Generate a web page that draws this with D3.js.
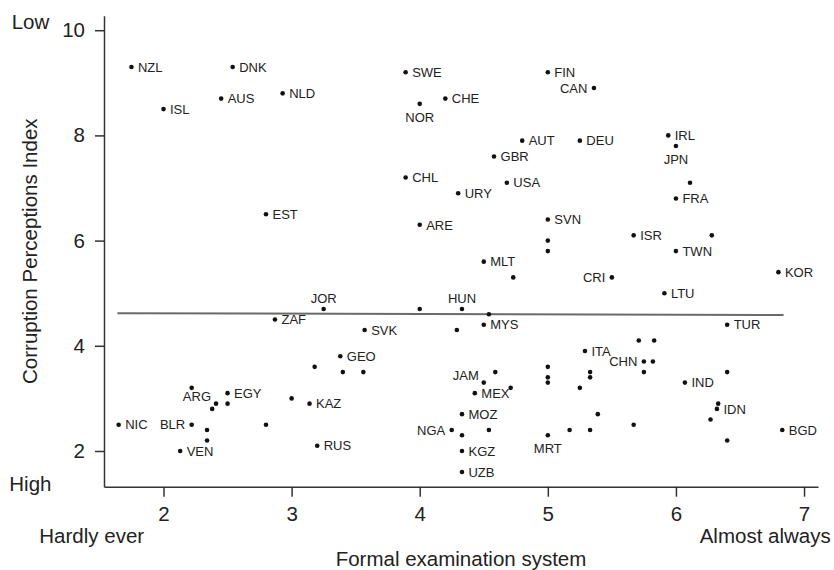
<!DOCTYPE html>
<html>
<head>
<meta charset="utf-8">
<script src="https://cdn.jsdelivr.net/npm/d3@7"></script>
<style>
  html, body { margin: 0; padding: 0; background: #fff; }
  svg { display: block; font-family: "Liberation Sans", Arial, Helvetica, sans-serif; }
</style>
</head>
<body>
<svg id="chart" width="834" height="570"></svg>
<script>
// ---- Data ----
const countryCodes = ["NZL","DNK","ISL","AUS","NLD","SWE","NOR","CHE","FIN","CAN","AUT","DEU","GBR","IRL","JPN","CHL","USA","URY","FRA","EST","ARE","SVN","ISR","TWN","MLT","KOR","CRI","LTU","JOR","HUN","ZAF","SVK","MYS","TUR","GEO","ITA","CHN","JAM","MEX","IND","ARG","EGY","KAZ","IDN","MOZ","NIC","BLR","NGA","BGD","MRT","RUS","VEN","KGZ","UZB",
  "","","","","","","","","","","","","","","","","","","","","","","","","","","","","","","","","","","","","","","",""];
const formalExam = [1.75,2.54,2.00,2.45,2.93,3.89,4.00,4.20,5.00,5.36,4.80,5.25,4.58,5.94,6.00,3.89,4.68,4.30,6.00,2.80,4.00,5.00,5.67,6.00,4.50,6.80,5.50,5.91,3.25,4.33,2.87,3.57,4.50,6.40,3.38,5.29,5.75,4.50,4.43,6.07,2.41,2.50,3.14,6.32,4.33,1.65,2.22,4.25,6.83,5.00,3.20,2.13,4.33,4.33,
  6.11,5.00,5.00,4.73,6.28,4.00,4.54,4.29,3.18,3.40,3.56,4.59,4.71,5.00,5.00,5.00,5.33,5.33,5.25,5.71,5.83,5.82,5.75,6.40,6.33,6.27,5.39,5.67,5.17,5.33,6.40,3.00,2.80,2.22,2.50,2.38,2.34,2.34,4.33,4.54];
const cpiValues = [9.3,9.3,8.5,8.7,8.8,9.2,8.6,8.7,9.2,8.9,7.9,7.9,7.6,8.0,7.8,7.2,7.1,6.9,6.8,6.5,6.3,6.4,6.1,5.8,5.6,5.4,5.3,5.0,4.7,4.7,4.5,4.3,4.4,4.4,3.8,3.9,3.7,3.3,3.1,3.3,2.9,3.1,2.9,2.8,2.7,2.5,2.5,2.4,2.4,2.3,2.1,2.0,2.0,1.6,
  7.1,6.0,5.8,5.3,6.1,4.7,4.6,4.3,3.6,3.5,3.5,3.5,3.2,3.6,3.4,3.3,3.5,3.4,3.2,4.1,4.1,3.7,3.5,3.5,2.9,2.6,2.7,2.5,2.4,2.4,2.2,3.0,2.5,3.2,2.9,2.8,2.4,2.2,2.3,2.4];
// label side: r = right, l = left, t = above, b = below, tl = above-left
const labelSide = {CAN:"l", CRI:"l", CHN:"l", BLR:"l", NGA:"l", NOR:"b", JPN:"b", MRT:"b", JOR:"t", HUN:"t", JAM:"tl", ARG:"tl"};
const xTicks = [2,3,4,5,6,7];
const yTicks = [2,4,6,8,10];
const trendX = [1.64, 6.84];
const trendY = [4.62, 4.585];
const xTitle = "Formal examination system";
const yTitle = "Corruption Perceptions Index";
const yEndLabels = ["Low", "High"];
const xEndLabels = ["Hardly ever", "Almost always"];

// ---- Layout ----
const W = 834, H = 570;
const margin = {left: 104, right: 16, top: 15.7, bottom: 83.3};
const svg = d3.select("#chart");
const x = d3.scaleLinear().domain([1.5355, 7.109]).range([margin.left, W - margin.right]);
const y = d3.scaleLinear().domain([1.321, 10.276]).range([H - margin.bottom, margin.top]);
const axisColor = "#333";
const textColor = "#222";
const bigFont = 20.5;

const points = countryCodes.map((c, i) => ({code: c, fx: formalExam[i], cpi: cpiValues[i]}));

// Axes
const gx = svg.append("g").attr("transform", `translate(0,${H - margin.bottom})`)
  .call(d3.axisBottom(x).tickValues(xTicks).tickSizeInner(10).tickSizeOuter(0).tickPadding(9.3).tickFormat(d3.format("d")));
const gy = svg.append("g").attr("transform", `translate(${margin.left},0)`)
  .call(d3.axisLeft(y).tickValues(yTicks).tickSizeInner(9).tickSizeOuter(0).tickPadding(10).tickFormat(d3.format("d")));
[gx, gy].forEach(g => {
  g.select(".domain").attr("stroke", axisColor).attr("stroke-width", 1.5);
  g.selectAll(".tick line").attr("stroke", axisColor).attr("stroke-width", 1.5);
  g.selectAll(".tick text").attr("fill", textColor).style("font-size", bigFont + "px")
    .style("font-family", '"Liberation Sans", Arial, Helvetica, sans-serif');
});

// Trend line
const trend = trendX.map((v, i) => [v, trendY[i]]);
svg.append("path").datum(trend)
  .attr("d", d3.line().x(d => x(d[0])).y(d => y(d[1])))
  .attr("fill", "none").attr("stroke", "#6a6a6a").attr("stroke-width", 2);

// Points
svg.append("g").selectAll("circle").data(points).join("circle")
  .attr("cx", d => x(d.fx)).attr("cy", d => y(d.cpi)).attr("r", 2.3).attr("fill", "#111");

// Labels
svg.append("g").selectAll("text").data(points.filter(d => d.code)).join("text")
  .attr("fill", textColor).style("font-size", "13px")
  .each(function(d) {
    const s = labelSide[d.code] || "r";
    const t = d3.select(this).text(d.code);
    const cx = x(d.fx), cy = y(d.cpi);
    if (s === "r") t.attr("x", cx + 6.5).attr("y", cy).attr("dy", "0.36em").attr("text-anchor", "start");
    else if (s === "l") t.attr("x", cx - 6.5).attr("y", cy).attr("dy", "0.36em").attr("text-anchor", "end");
    else if (s === "t") t.attr("x", cx).attr("y", cy - 6).attr("text-anchor", "middle");
    else if (s === "b") t.attr("x", cx).attr("y", cy + 17.8).attr("text-anchor", "middle");
    else if (s === "tl") t.attr("x", cx - 5).attr("y", cy - 3).attr("text-anchor", "end");
  });

// Titles and end labels
const txt = (s, xx, yy, anchor) => svg.append("text").text(s).attr("x", xx).attr("y", yy)
  .attr("text-anchor", anchor).attr("fill", textColor).style("font-size", bigFont + "px");
txt(yEndLabels[0], 11.7, 29.3, "start");
txt(yEndLabels[1], 9.3, 490.5, "start");
txt(xEndLabels[0], 39.3, 543, "start");
txt(xEndLabels[1], 830.7, 543, "end");
txt(xTitle, (x.range()[0] + x.range()[1]) / 2, 566, "middle");
svg.append("text").text(yTitle)
  .attr("transform", `translate(37,${(y.range()[0] + y.range()[1]) / 2}) rotate(-90)`)
  .attr("text-anchor", "middle").attr("fill", textColor).style("font-size", bigFont + "px");
</script>
</body>
</html>
